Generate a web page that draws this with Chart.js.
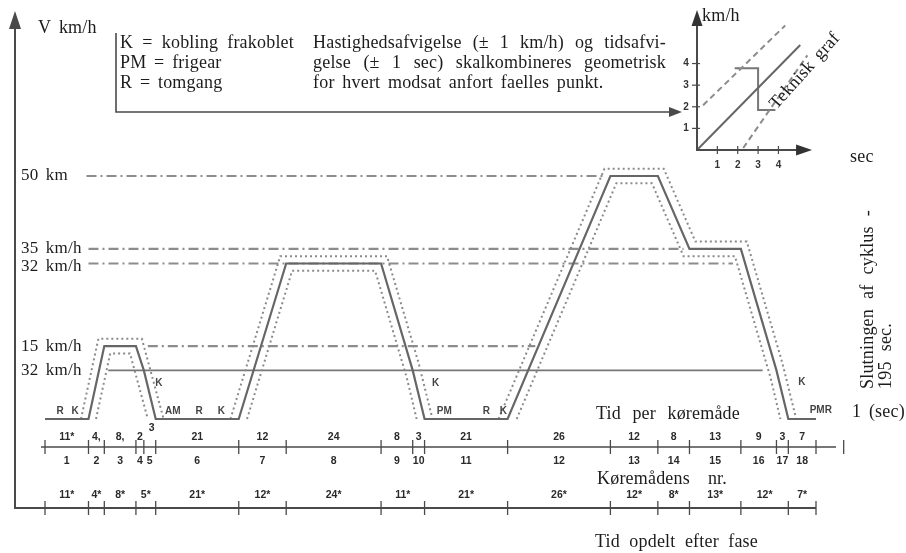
<!DOCTYPE html>
<html>
<head>
<meta charset="utf-8">
<script src="https://cdn.jsdelivr.net/npm/chart.js@4.4.1/dist/chart.umd.min.js"></script>
<style>
  html, body { margin: 0; padding: 0; background: #fff; }
  #wrap { position: relative; width: 906px; height: 553px; overflow: hidden; background: #fff; }
  #main { position: absolute; left: 0; top: 0; }
  #inset { position: absolute; left: 640px; top: 0; }
</style>
</head>
<body>
<div id="wrap">
  <canvas id="main" width="906" height="553"></canvas>
  <canvas id="inset" width="250" height="200"></canvas>
</div>
<script>
// ---- driving cycle: time (s) and speed (km/h) ----
const cycleTime  = [0, 11, 15, 23, 25, 28, 49, 61, 85, 93, 96, 117, 143, 155, 163, 176, 185, 188, 195];
const cycleSpeed = [0, 0, 15, 15, 10, 0, 0, 32, 32, 10, 0, 0, 50, 50, 35, 35, 10, 0, 0];

// tolerance band (outer / inner edge), null separates the three hills
const outerTime  = [9.1, 13.5, 24.5, 30, null, 46.9, 59.5, 86.5, 94.5, 98, null, 114.7, 141.5, 156.5, 164.5, 177.5, 186.5, 190];
const outerSpeed = [0, 16.5, 16.5, 0, null, 0, 33.5, 33.5, 11.5, 0, null, 0, 51.5, 51.5, 36.5, 36.5, 11.5, 0];
const innerTime  = [12.9, 16.5, 21.5, 26, null, 51.1, 62.5, 83.5, 91.5, 94, null, 119.3, 144.5, 153.5, 161.5, 174.5, 183.5, 186];
const innerSpeed = [0, 13.5, 13.5, 0, null, 0, 30.5, 30.5, 8.5, 0, null, 0, 48.5, 48.5, 33.5, 33.5, 8.5, 0];

// reference speed lines
const refSpeed = [50, 35, 32, 15, 10];
const refFrom  = [10.5, 11, 11, 26, 16];
const refTo    = [141, 161.5, 174, 124, 181.5];
const refLabel = ['50 km', '35 km/h', '32 km/h', '15 km/h', '32 km/h'];

// operating modes: duration (s) and printed duration
const modeDur      = [11, 4, 8, 2, 3, 21, 12, 24, 8, 3, 21, 26, 12, 8, 13, 9, 3, 7];
const modeDurLabel = ['11*', '4,', '8,', '2', '3', '21', '12', '24', '8', '3', '21', '26', '12', '8', '13', '9', '3', '7'];

// phases: duration (s)
const phaseDur = [11, 4, 8, 5, 21, 12, 24, 11, 21, 26, 12, 8, 13, 12, 7];

// gear / clutch markers on the curve: text, time (s), speed (km/h)
const markText  = ['R', 'K', 'K', 'AM', 'R', 'K', 'K', 'PM', 'R', 'K', 'K', 'PMR'];
const markTime  = [3.8, 7.6, 28.8, 32.3, 39, 44.6, 98.8, 101, 111.6, 115.9, 191.4, 196.2];
const markSpeed = [1.5, 1.5, 7.4, 1.5, 1.5, 1.5, 7.4, 1.5, 1.5, 1.5, 7.6, 1.8];

// inset "Teknisk graf": ideal line, tolerance lines and a stepped trace
const techX = [0, 5.07];
const techY = [0, 4.86];
const techUpX = [0.3, 4.33];
const techUpY = [2.07, 5.76];
const techLoX = [2.27, 5.42];
const techLoY = [0.09, 4.38];
const stepX = [1.85, 3.0, 3.0, 3.85];
const stepY = [3.78, 3.78, 1.85, 1.85];
const insetTicks = [1, 2, 3, 4];

const legendLeft  = ['K = kobling frakoblet', 'PM = frigear', 'R = tomgang'];
const legendRight = ['Hastighedsafvigelse (\u00b1 1 km/h) og tidsafvi-',
                     'gelse (\u00b1 1 sec) skalkombineres geometrisk',
                     'for hvert modsat anfort faelles punkt.'];

const SERIF = '"Liberation Serif", "DejaVu Serif", serif';
const SANS  = '"Liberation Sans", "DejaVu Sans", sans-serif';
const INK = '#1c1c1c';
const AXIS = '#4a4a4a';

const pts = (xs, ys) => xs.map((v, i) => ({ x: v, y: ys[i] }));
const cumulative = d => d.reduce((acc, v) => { acc.push(acc[acc.length - 1] + v); return acc; }, [0]);

function serif(ctx, size) {
  ctx.font = size + 'px ' + SERIF;
  ctx.letterSpacing = '0.2px';
  ctx.wordSpacing = '3px';
}
function plain(ctx) { ctx.letterSpacing = '0px'; ctx.wordSpacing = '0px'; }

// spread the words of a line so it fills the given width
function justify(ctx, text, x0, y0, width) {
  const words = text.split(' ');
  const ws = words.map(w => ctx.measureText(w).width);
  const gap = (width - ws.reduce((a, b) => a + b, 0)) / Math.max(1, words.length - 1);
  let cx = x0;
  words.forEach((w, i) => { ctx.fillText(w, cx, y0); cx += ws[i] + gap; });
}

function arrowHead(ctx, tipX, tipY, dir, len, half) {
  ctx.beginPath();
  if (dir === 'up') {
    ctx.moveTo(tipX, tipY); ctx.lineTo(tipX - half, tipY + len); ctx.lineTo(tipX + half, tipY + len);
  } else {
    ctx.moveTo(tipX, tipY); ctx.lineTo(tipX - len, tipY - half); ctx.lineTo(tipX - len, tipY + half);
  }
  ctx.closePath();
  ctx.fill();
}

// everything around the speed curve: frame, legend, labels, time rulers
const cycleDecor = {
  id: 'cycleDecor',
  afterDraw(chart) {
    const ctx = chart.ctx;
    const xs = chart.scales.x, ys = chart.scales.y;
    const X = t => xs.getPixelForValue(t);
    const Y = v => ys.getPixelForValue(v);
    ctx.save();
    ctx.strokeStyle = AXIS; ctx.fillStyle = AXIS;

    // vertical speed axis and bottom base line
    const axisX = 15, baseY = 508;
    ctx.lineWidth = 2;
    ctx.beginPath(); ctx.moveTo(axisX, 26); ctx.lineTo(axisX, baseY); ctx.lineTo(X(195), baseY); ctx.stroke();
    arrowHead(ctx, axisX, 11, 'up', 18, 6);

    // legend bracket with arrow
    ctx.lineWidth = 1.6;
    ctx.beginPath(); ctx.moveTo(116, 33); ctx.lineTo(116, 112); ctx.lineTo(672, 112); ctx.stroke();
    arrowHead(ctx, 682, 112, 'right', 13, 5);

    // texts
    ctx.fillStyle = INK;
    ctx.textBaseline = 'middle';
    ctx.textAlign = 'left';
    serif(ctx, 18);
    ctx.fillText('V km/h', 38, 28);
    justify(ctx, legendLeft[0], 120, 43, 174);
    ctx.fillText(legendLeft[1], 120, 63);
    ctx.fillText(legendLeft[2], 120, 83);
    justify(ctx, legendRight[0], 313, 43, 353);
    justify(ctx, legendRight[1], 313, 63, 353);
    ctx.fillText(legendRight[2], 313, 83);

    serif(ctx, 17);
    refLabel.forEach((lab, i) => ctx.fillText(lab, 21, Y(refSpeed[i]) + (i === 2 ? 3 : 0)));

    serif(ctx, 18);
    justify(ctx, 'Tid per k\u00f8rem\u00e5de', 596, 414, 144);
    justify(ctx, 'K\u00f8rem\u00e5dens nr.', 597, 479, 130);
    justify(ctx, 'Tid opdelt efter fase', 595, 542, 163);
    ctx.fillText('1 (sec)', 852, 412);

    // rotated end-of-cycle note
    ctx.save();
    ctx.translate(868, 389); ctx.rotate(-Math.PI / 2);
    justify(ctx, 'Slutningen af cyklus -', 0, 0, 179);
    ctx.restore();
    ctx.save();
    ctx.translate(886, 389); ctx.rotate(-Math.PI / 2);
    justify(ctx, '195 sec.', 0, 0, 66);
    ctx.restore();

    // clutch / gear markers
    plain(ctx);
    ctx.fillStyle = '#444';
    ctx.font = 'bold 10px ' + SANS;
    ctx.textAlign = 'center';
    markText.forEach((m, i) => ctx.fillText(m, X(markTime[i]), Y(markSpeed[i])));

    // time ruler per operating mode
    const modeEdges = cumulative(modeDur);
    const rowA = 447;
    ctx.strokeStyle = AXIS; ctx.lineWidth = 1.6;
    ctx.beginPath(); ctx.moveTo(X(0) - 4, rowA); ctx.lineTo(X(195) + 20, rowA); ctx.stroke();
    ctx.lineWidth = 1.3;
    [...modeEdges, 202].forEach(t => {
      ctx.beginPath(); ctx.moveTo(X(t), rowA - 7); ctx.lineTo(X(t), rowA + 7); ctx.stroke();
    });
    ctx.fillStyle = '#2a2a2a';
    ctx.font = 'bold 10.5px ' + SANS;
    modeDur.forEach((d, i) => {
      const mid = X((modeEdges[i] + modeEdges[i + 1]) / 2);
      const raised = d < 4 && i > 0 && modeDur[i - 1] < 4;
      ctx.fillText(modeDurLabel[i], mid + (raised ? 2 : 0), raised ? rowA - 19 : rowA - 10);
      ctx.fillText(String(i + 1), mid, rowA + 14);
    });

    // time ruler per phase
    const phaseEdges = cumulative(phaseDur);
    const rowB = baseY;
    ctx.lineWidth = 1.3;
    phaseEdges.forEach(t => {
      ctx.beginPath(); ctx.moveTo(X(t), rowB - 7); ctx.lineTo(X(t), rowB + 7); ctx.stroke();
    });
    phaseDur.forEach((d, i) => {
      ctx.fillText(d + '*', X((phaseEdges[i] + phaseEdges[i + 1]) / 2), rowB - 13);
    });
    ctx.restore();
  }
};

const refDatasets = refSpeed.map((v, i) => {
  const solid = i === refSpeed.length - 1;
  return {
    data: [{ x: refFrom[i], y: v }, { x: refTo[i], y: v }],
    borderColor: solid ? '#777' : '#8c8c8c',
    borderWidth: solid ? 1.6 : 2.2,
    borderDash: solid ? [] : [10, 4, 2, 4],
  };
});

new Chart(document.getElementById('main'), {
  type: 'line',
  data: {
    datasets: [
      { data: pts(cycleTime, cycleSpeed), borderColor: '#666', borderWidth: 2.2 },
      { data: pts(outerTime, outerSpeed), borderColor: '#8a8a8a', borderWidth: 2, borderDash: [2, 3], spanGaps: false },
      { data: pts(innerTime, innerSpeed), borderColor: '#8a8a8a', borderWidth: 2, borderDash: [2, 3], spanGaps: false },
      ...refDatasets
    ].map(d => Object.assign({ pointRadius: 0, tension: 0, clip: false, fill: false }, d))
  },
  options: {
    responsive: false,
    devicePixelRatio: 1,
    animation: false,
    layout: { padding: { left: 45, right: 90, top: 176, bottom: 134 } },
    scales: {
      x: { type: 'linear', min: 0, max: 195, display: false },
      y: { type: 'linear', min: 0, max: 50, display: false }
    },
    plugins: { legend: { display: false }, tooltip: { enabled: false } }
  },
  plugins: [cycleDecor]
});

// small technical graph: axes, ticks and captions
const insetDecor = {
  id: 'insetDecor',
  afterDraw(chart) {
    const ctx = chart.ctx;
    const xs = chart.scales.x, ys = chart.scales.y;
    const X = v => xs.getPixelForValue(v);
    const Y = v => ys.getPixelForValue(v);
    const x0 = X(0), y0 = Y(0);
    ctx.save();
    ctx.strokeStyle = AXIS; ctx.fillStyle = '#333';
    ctx.lineWidth = 2;
    ctx.beginPath(); ctx.moveTo(x0, 24); ctx.lineTo(x0, y0); ctx.lineTo(X(5.2), y0); ctx.stroke();
    arrowHead(ctx, x0, 10, 'up', 16, 5.5);
    arrowHead(ctx, X(5.65), y0, 'right', 16, 5.5);
    ctx.lineWidth = 1.2;
    insetTicks.forEach(v => {
      ctx.beginPath(); ctx.moveTo(X(v), y0 - 4); ctx.lineTo(X(v), y0 + 4); ctx.stroke();
      ctx.beginPath(); ctx.moveTo(x0 - 5, Y(v)); ctx.lineTo(x0 + 3, Y(v)); ctx.stroke();
    });
    ctx.font = 'bold 10px ' + SANS;
    ctx.textAlign = 'center'; ctx.textBaseline = 'middle';
    insetTicks.forEach(v => {
      ctx.fillText(String(v), X(v), y0 + 15);
      ctx.fillText(String(v), x0 - 11, Y(v));
    });
    ctx.fillStyle = INK;
    serif(ctx, 18);
    ctx.textAlign = 'left';
    ctx.fillText('km/h', x0 + 5, 16);
    ctx.fillText('sec', 210, 157);
    ctx.save();
    ctx.translate(X(5.3), Y(3.65)); ctx.rotate(-0.84);
    ctx.textAlign = 'center';
    ctx.fillText('Teknisk graf', 0, 0);
    ctx.restore();
    ctx.restore();
  }
};

new Chart(document.getElementById('inset'), {
  type: 'line',
  data: {
    datasets: [
      { data: pts(techX, techY), borderColor: '#666', borderWidth: 2 },
      { data: pts(techUpX, techUpY), borderColor: '#8c8c8c', borderWidth: 2, borderDash: [6, 4] },
      { data: pts(techLoX, techLoY), borderColor: '#8c8c8c', borderWidth: 2, borderDash: [6, 4] },
      { data: pts(stepX, stepY), borderColor: '#777', borderWidth: 2 }
    ].map(d => Object.assign({ pointRadius: 0, tension: 0, clip: false, fill: false }, d))
  },
  options: {
    responsive: false,
    devicePixelRatio: 1,
    animation: false,
    layout: { padding: { left: 57, right: 81, top: 16, bottom: 50 } },
    scales: {
      x: { type: 'linear', min: 0, max: 5.5, display: false },
      y: { type: 'linear', min: 0, max: 6.2, display: false }
    },
    plugins: { legend: { display: false }, tooltip: { enabled: false } }
  },
  plugins: [insetDecor]
});
</script>
</body>
</html>
